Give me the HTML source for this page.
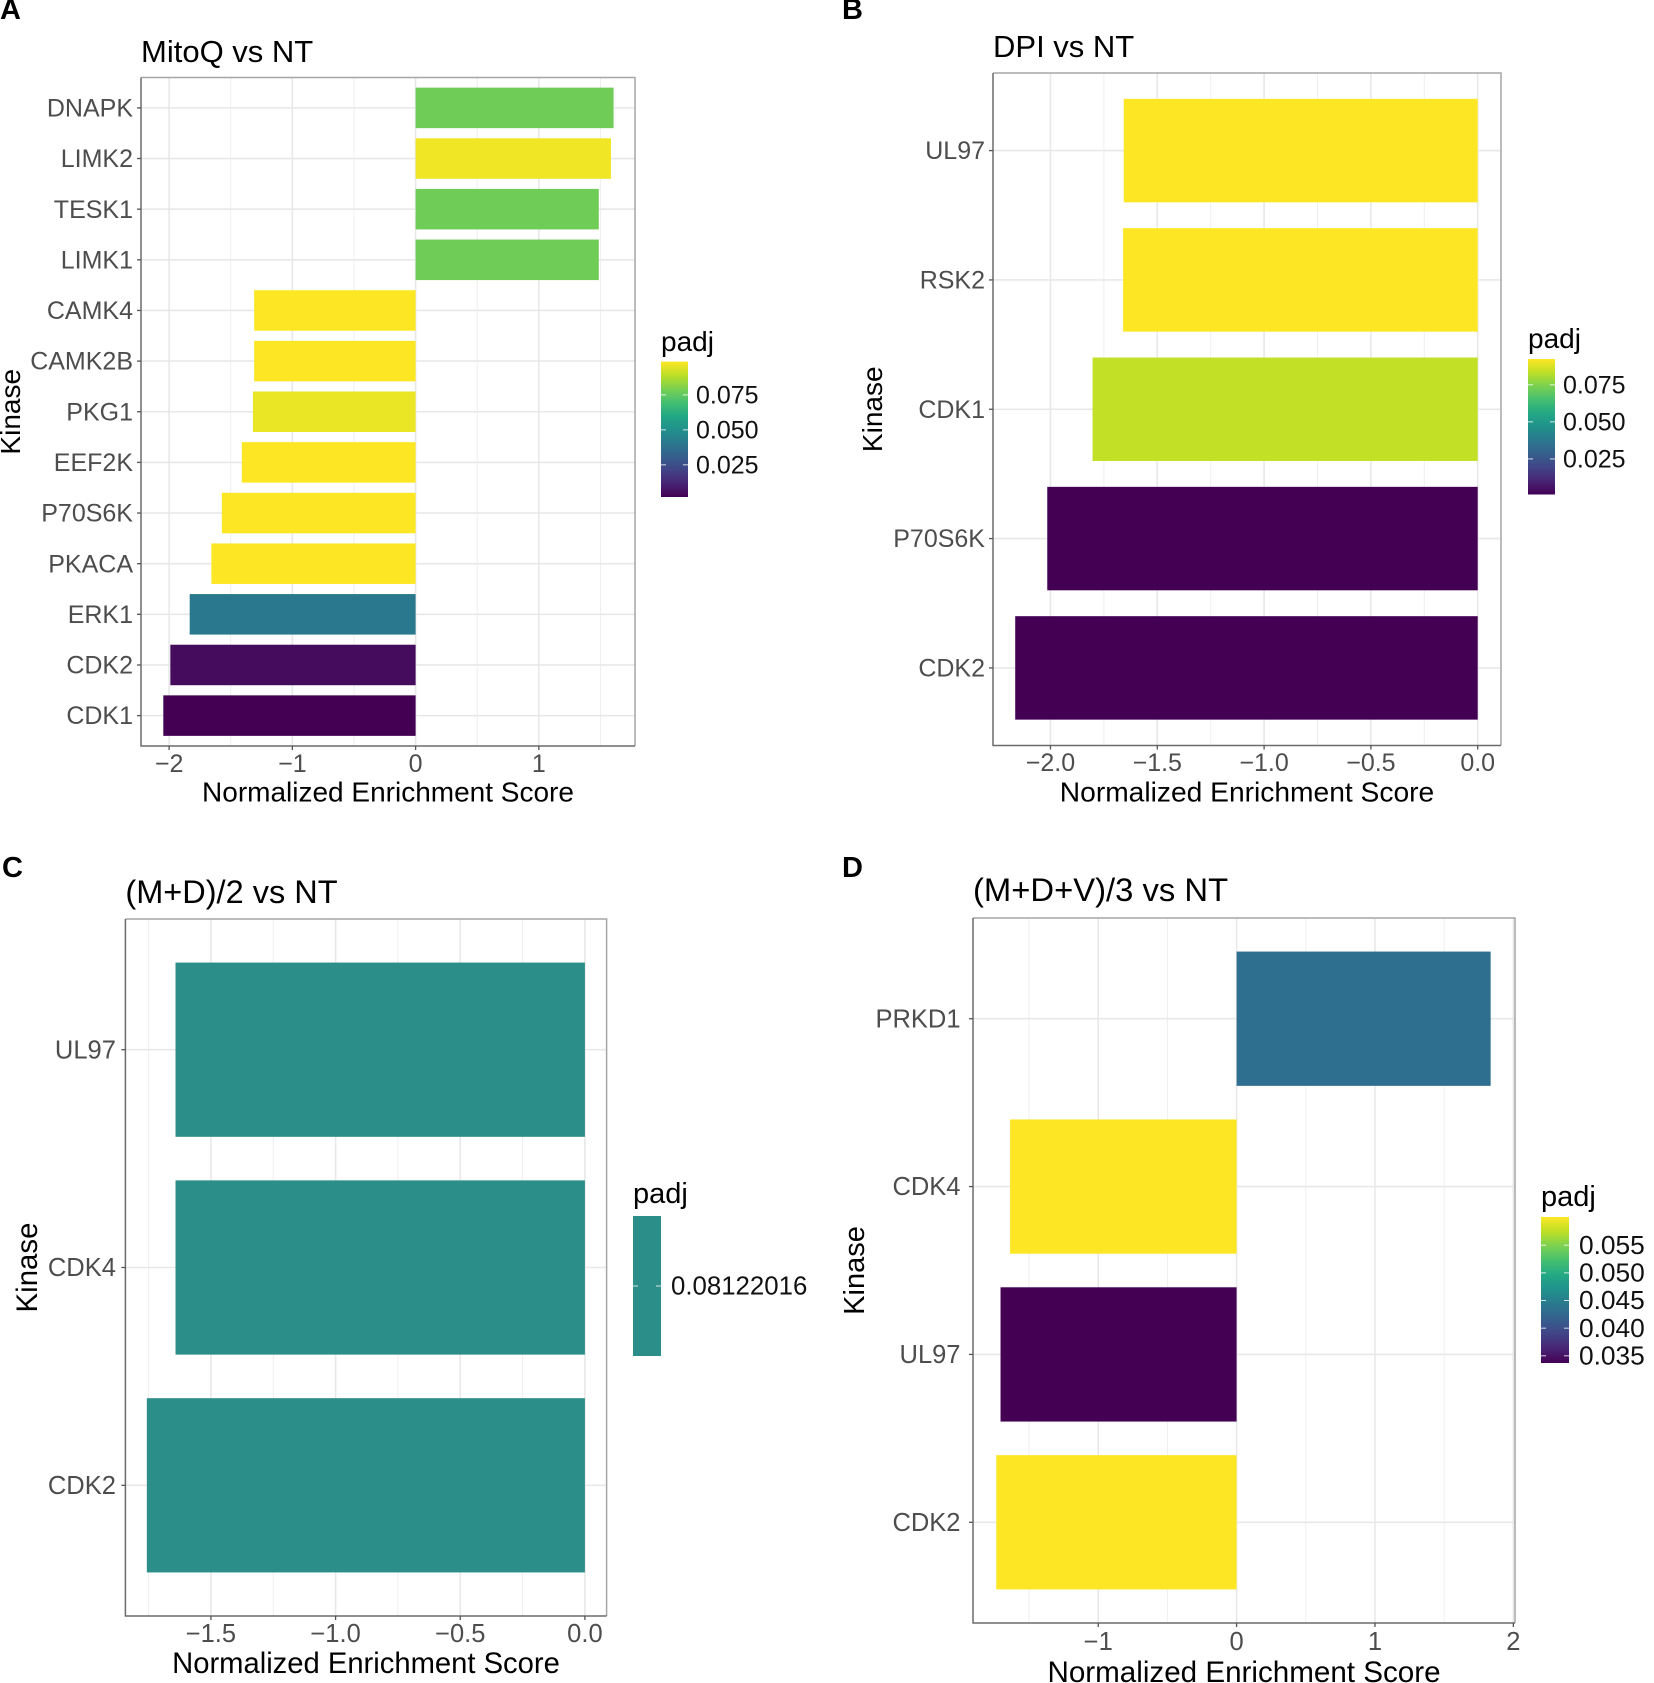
<!DOCTYPE html>
<html lang="en">
<head>
<meta charset="utf-8">
<title>Kinase enrichment panels</title>
<style>
html,body{margin:0;padding:0;background:#fff;width:1654px;height:1683px;overflow:hidden}
svg{display:block;font-family:"Liberation Sans",Arial,sans-serif;filter:blur(0.35px)}
</style>
</head>
<body>
<svg id="figure" xmlns="http://www.w3.org/2000/svg" width="1654" height="1683" viewBox="0 0 1654 1683"></svg>
<script>
// Panel A data
const aCategories = ['DNAPK','LIMK2','TESK1','LIMK1','CAMK4','CAMK2B','PKG1','EEF2K','P70S6K','PKACA','ERK1','CDK2','CDK1'];
const aNes = [1.606,1.585,1.486,1.486,-1.31,-1.31,-1.32,-1.41,-1.572,-1.657,-1.833,-1.99,-2.047];
const aPadj = [0.0775,0.097,0.0775,0.0775,0.0988,0.0988,0.096,0.0988,0.0988,0.0988,0.0407,0.005,0.002];
const aXTicks = [-2,-1,0,1];
const aXTickLabels = ['\u22122','\u22121','0','1'];
const aXMinor = [-1.5,-0.5,0.5,1.5];
const aLegendTicks = [0.025,0.05,0.075];
const aLegendLabels = ['0.025','0.050','0.075'];
// Panel B data
const bCategories = ['UL97','RSK2','CDK1','P70S6K','CDK2'];
const bNes = [-1.657,-1.66,-1.803,-2.015,-2.165];
const bPadj = [0.0924,0.0924,0.084,0.001,0.001];
const bXTicks = [-2,-1.5,-1,-0.5,0];
const bXTickLabels = ['\u22122.0','\u22121.5','\u22121.0','\u22120.5','0.0'];
const bXMinor = [-1.75,-1.25,-0.75,-0.25];
const bLegendTicks = [0.025,0.05,0.075];
const bLegendLabels = ['0.025','0.050','0.075'];
// Panel C data
const cCategories = ['UL97','CDK4','CDK2'];
const cNes = [-1.642,-1.642,-1.757];
const cPadj = [0.08122016,0.08122016,0.08122016];
const cXTicks = [-1.5,-1,-0.5,0];
const cXTickLabels = ['\u22121.5','\u22121.0','\u22120.5','0.0'];
const cXMinor = [-1.75,-1.25,-0.75,-0.25];
const cLegendTicks = [0.08122016];
const cLegendLabels = ['0.08122016'];
// Panel D data
const dCategories = ['PRKD1','CDK4','UL97','CDK2'];
const dNes = [1.836,-1.637,-1.706,-1.737];
const dPadj = [0.0432,0.0601,0.0337,0.0601];
const dXTicks = [-1,0,1,2];
const dXTickLabels = ['\u22121','0','1','2'];
const dXMinor = [-1.5,-0.5,0.5,1.5];
const dLegendTicks = [0.035,0.04,0.045,0.05,0.055];
const dLegendLabels = ['0.035','0.040','0.045','0.050','0.055'];

const VIRIDIS = ['#440154','#482475','#414487','#355f8d','#2a788e','#21918c','#22a884','#44bf70','#7ad151','#bddf26','#fde725'];
const SVG_NS = 'http://www.w3.org/2000/svg';
const root = document.getElementById('figure');

function hexToRgb(h){return [1,3,5].map(function(i){return parseInt(h.substr(i,2),16);});}
function viridis(t){
  t = Math.max(0,Math.min(1,t));
  const p = t*(VIRIDIS.length-1), i = Math.min(Math.floor(p),VIRIDIS.length-2), f = p-i;
  const a = hexToRgb(VIRIDIS[i]), b = hexToRgb(VIRIDIS[i+1]);
  return 'rgb('+a.map(function(v,k){return Math.round(v+(b[k]-v)*f);}).join(',')+')';
}
function make(tag,attrs,parent,text){
  const el = document.createElementNS(SVG_NS,tag);
  for(const k in attrs){el.setAttribute(k,attrs[k]);}
  if(text!==undefined){el.textContent=text;}
  (parent||root).appendChild(el);
  return el;
}
function slug(s){return s.toLowerCase().replace(/[^a-z0-9]+/g,'-').replace(/^-|-$/g,'');}

function drawPanel(p){
  const g = make('g',{},root);
  
  

  const x = function(v){return p.left+(v-p.xDomain[0])/(p.xDomain[1]-p.xDomain[0])*(p.right-p.left);};
  const n = p.categories.length;
  const band = (p.bottom-p.top)/(n-1+1.2);
  const y = function(i){return p.top+band*(0.6+i);};
  const barH = band*0.8;
  const tMin = p.padjRange[0], tMax = p.padjRange[1];
  const colorOf = function(v){return tMax>tMin ? viridis((v-tMin)/(tMax-tMin)) : p.singleColor;};

  // panel letter
  const letter = make('text',{x:p.letterX,y:p.letterY,'font-size':29,'font-weight':'bold',fill:'#000'},g,p.id.toUpperCase());
  
  

  // title
  const title = make('text',{x:p.left,y:p.titleY,'font-size':p.titleFont,fill:'#000'},g,p.title);
  
  

  // grid
  p.minor.forEach(function(v){
    const line = make('line',{x1:x(v),x2:x(v),y1:p.top,y2:p.bottom,stroke:'#efefef','stroke-width':1},g);
    
    
  });
  p.xTicks.forEach(function(v){
    const line = make('line',{x1:x(v),x2:x(v),y1:p.top,y2:p.bottom,stroke:'#e8e8e8','stroke-width':1.6},g);
    
    
  });
  p.categories.forEach(function(c,i){
    const line = make('line',{x1:p.left,x2:p.right,y1:y(i),y2:y(i),stroke:'#e8e8e8','stroke-width':1.6},g);
    
    
  });

  // bars
  p.categories.forEach(function(c,i){
    const v = p.values[i];
    const x0 = Math.min(x(0),x(v)), w = Math.abs(x(v)-x(0));
    const bar = make('rect',{x:x0,y:y(i)-barH/2,width:w,height:barH,fill:colorOf(p.padj[i])},g);
    
    
  });

  // border
  const borderLight = make('path',{d:'M'+p.left+' '+p.top+'H'+p.right+'V'+p.bottom,fill:'none',stroke:'#a6a6a6','stroke-width':1.5},g);
  
  
  const borderDark = make('path',{d:'M'+p.left+' '+p.top+'V'+p.bottom+'H'+p.right,fill:'none',stroke:'#6b6b6b','stroke-width':1.5},g);
  
  

  // y axis
  p.categories.forEach(function(c,i){
    const tick = make('line',{x1:p.left-4,x2:p.left,y1:y(i),y2:y(i),stroke:'#555','stroke-width':1.3},g);
    
    
    const lab = make('text',{x:p.left-p.labelGap,y:y(i)+8.6,'text-anchor':'end','font-size':p.tickFont,fill:'#4d4d4d'},g,c);
    
    
  });

  // x axis
  p.xTicks.forEach(function(v,i){
    const tick = make('line',{x1:x(v),x2:x(v),y1:p.bottom,y2:p.bottom+4,stroke:'#555','stroke-width':1.3},g);
    
    
    const lab = make('text',{x:x(v),y:p.xLabelY,'text-anchor':'middle','font-size':p.tickFont,fill:'#4d4d4d'},g,p.xLabels[i]);
    
    
  });

  // axis titles
  const xt = make('text',{x:(p.left+p.right)/2,y:p.xTitleY,'text-anchor':'middle','font-size':p.xTitleFont,fill:'#000'},g,'Normalized Enrichment Score');
  
  
  const yCenter = (p.top+p.bottom)/2;
  const yt = make('text',{x:0,y:0,'text-anchor':'middle','font-size':p.yTitleFont,fill:'#000',transform:'translate('+p.yTitleX+' '+yCenter+') rotate(-90)'},g,'Kinase');
  
  

  // legend
  const gradId = 'grad-'+p.id;
  const defs = make('defs',{},g);
  const grad = make('linearGradient',{id:gradId,x1:0,y1:1,x2:0,y2:0},defs);
  VIRIDIS.forEach(function(col,i){
    make('stop',{offset:i/(VIRIDIS.length-1),'stop-color':tMax>tMin?col:p.singleColor},grad);
  });
  const lt = make('text',{x:p.legX,y:p.legTitleY,'font-size':p.legTitleFont,fill:'#000'},g,'padj');
  
  
  const lb = make('rect',{x:p.legX,y:p.legTop,width:p.legW,height:p.legBottom-p.legTop,fill:'url(#'+gradId+')'},g);
  
  
  const ly = function(v){
    if(tMax>tMin){return p.legBottom-(v-tMin)/(tMax-tMin)*(p.legBottom-p.legTop);}
    return (p.legTop+p.legBottom)/2;
  };
  p.legendTicks.forEach(function(v,i){
    const yy = ly(v);
    [[p.legX,p.legX+5],[p.legX+p.legW-5,p.legX+p.legW]].forEach(function(seg){
      const t = make('line',{x1:seg[0],x2:seg[1],y1:yy,y2:yy,stroke:'#fff','stroke-width':1,'stroke-opacity':0.8},g);
      
      
    });
    const l = make('text',{x:p.legLabelX,y:yy+8.6,'font-size':p.legFont,fill:'#111'},g,p.legendLabels[i]);
    
    
  });
}

drawPanel({id:'a',title:'MitoQ vs NT',categories:aCategories,values:aNes,padj:aPadj,xTicks:aXTicks,xLabels:aXTickLabels,minor:aXMinor,legendTicks:aLegendTicks,legendLabels:aLegendLabels,padjRange:[0.002,0.0988],
  left:141,right:635,top:77.5,bottom:746,xDomain:[-2.228,1.78],letterX:0,letterY:19,titleY:62,xLabelY:772,xTitleY:801.5,yTitleX:20,
  titleFont:31,tickFont:25,xTitleFont:28,yTitleFont:28,legTitleFont:28,legFont:25,labelGap:8,
  legX:661,legW:27,legTop:361.6,legBottom:497,legTitleY:351,legLabelX:696});
drawPanel({id:'b',title:'DPI vs NT',categories:bCategories,values:bNes,padj:bPadj,xTicks:bXTicks,xLabels:bXTickLabels,minor:bXMinor,legendTicks:bLegendTicks,legendLabels:bLegendLabels,padjRange:[0.001,0.0924],
  left:993,right:1501,top:73,bottom:745.5,xDomain:[-2.269,0.109],letterX:842,letterY:19,titleY:57,xLabelY:771,xTitleY:801.5,yTitleX:882,
  titleFont:31,tickFont:25,xTitleFont:28.2,yTitleFont:28,legTitleFont:28,legFont:25,labelGap:8,
  legX:1528,legW:27,legTop:359,legBottom:494.5,legTitleY:348,legLabelX:1563});
drawPanel({id:'c',title:'(M+D)/2 vs NT',categories:cCategories,values:cNes,padj:cPadj,xTicks:cXTicks,xLabels:cXTickLabels,minor:cXMinor,legendTicks:cLegendTicks,legendLabels:cLegendLabels,padjRange:[0.08122016,0.08122016],singleColor:'#2b8e88',
  left:125.4,right:606.6,top:919,bottom:1616,xDomain:[-1.843,0.087],letterX:2,letterY:877,titleY:903,xLabelY:1642,xTitleY:1673,yTitleX:37,
  titleFont:32.5,tickFont:25.5,xTitleFont:29.2,yTitleFont:29.4,legTitleFont:29,legFont:25.8,labelGap:9.5,
  legX:633,legW:28,legTop:1216,legBottom:1356,legTitleY:1203,legLabelX:671});
drawPanel({id:'d',title:'(M+D+V)/3 vs NT',categories:dCategories,values:dNes,padj:dPadj,xTicks:dXTicks,xLabels:dXTickLabels,minor:dXMinor,legendTicks:dLegendTicks,legendLabels:dLegendLabels,padjRange:[0.0337,0.0601],
  left:973,right:1515,top:918,bottom:1623,xDomain:[-1.905,2.012],letterX:842,letterY:877,titleY:901,xLabelY:1650,xTitleY:1682,yTitleX:864,
  titleFont:32.8,tickFont:25.5,xTitleFont:29.6,yTitleFont:29,legTitleFont:29,legFont:26.3,labelGap:12.5,
  legX:1541,legW:28,legTop:1217,legBottom:1363,legTitleY:1206,legLabelX:1579});
</script>
</body>
</html>
